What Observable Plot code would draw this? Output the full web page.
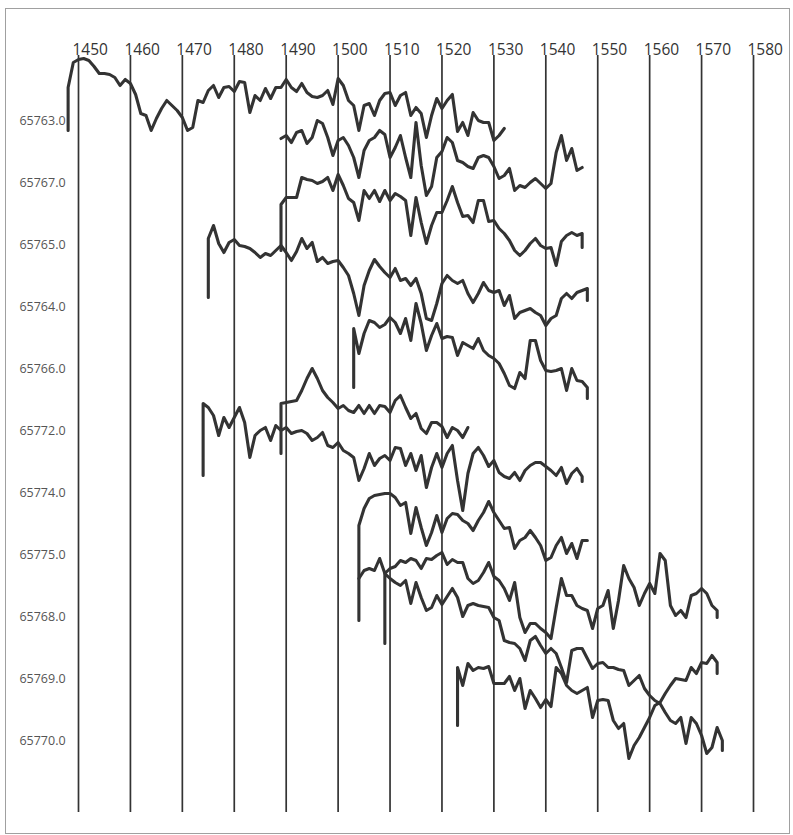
<!DOCTYPE html>
<html><head><meta charset="utf-8">
<script src="https://cdn.jsdelivr.net/npm/d3@7"></script>
<script src="https://cdn.jsdelivr.net/npm/@observablehq/plot@0.6"></script>
<style>
html,body{margin:0;padding:0;background:#fff;}
#frame{position:absolute;left:5px;top:8px;width:783px;height:824px;border:1px solid #a0a0a0;background:#fff;}
#frame svg{display:block;}
</style></head><body><div id="frame"></div>
<script>
// Sample labels (top to bottom)
const seriesLabels = ["65763.0","65767.0","65765.0","65764.0","65766.0","65772.0","65774.0","65775.0","65768.0","65769.0","65770.0"];
// First year of each series
const startYears = [1448,1489,1489,1475,1503,1489,1474,1504,1504,1509,1523];
// Yearly values: height above each series' baseline
const s0 = [33,58,61,62,60,54,47,47,46,43, 35,41,37,26,7,5,-10,2,12,20, 15,10,3,-10,-7,20,18,30,35,23, 33,34,29,39,38,8,25,20,32,22, 33,33,41,33,29,37,28,24,23,25, 30,16,42,35,20,15,-10,15,17,5, 20,27,28,15,25,28,5,13,7,-17, 5,22,12,20,26,-11,-2,-15,8,0, -2,-2,-20,-15,-8];
const s1 = [44,47,40,50,52,39,45,62,59,45, 27,42,45,37,25,5,32,42,45,52, 48,25,35,47,25,5,60,17,-13,-4, 25,31,45,40,22,20,16,14,25,27, 25,16,4,7,14,-8,-3,-5,0,4, -1,-6,-1,30,47,22,34,12,15];
const s2 = [40,47,47,47,67,65,64,61,63,67, 54,70,59,46,42,24,54,46,54,43, 54,44,51,48,44,9,47,22,1,19, 32,32,44,58,42,28,29,22,44,44, 23,24,16,11,4,-6,-11,-6,1,6, -1,-4,-3,-21,3,9,12,9,11];
const s3 = [68,81,63,54,64,67,61,60,58,54, 49,53,51,56,61,54,46,55,68,58, 64,45,49,43,45,46,39,31,13,-9, 21,36,47,40,34,29,38,26,28,21, 28,13,-12,-14,3,23,31,26,23,26, 13,4,13,24,16,14,16,1,11,-12, -6,-4,-2,-6,-9,-19,-12,-9,8,13, 8,14,16,18];
const s4 = [40,15,35,48,46,41,44,51,46,35, 50,28,65,45,18,33,45,30,32,31, 13,26,23,20,30,18,13,10,5,-5, -17,-20,-4,-10,28,28,8,-2,-3,-2, 0,-22,0,-12,-13,-19];
const s5 = [27,28,29,30,40,52,62,52,40,33, 28,22,25,20,18,25,17,25,17,25, 24,18,30,35,23,12,17,2,-3,8, 8,4,-7,3,0,-7,3];
const s6 = [89,85,77,57,75,65,75,85,70,35, 57,62,65,52,67,62,65,59,61,62, 59,52,55,60,47,45,50,42,39,35, 12,24,39,27,34,37,32,45,44,27, 39,22,37,5,25,39,25,39,47,12, -18,19,39,45,37,26,32,20,16,14, 20,12,22,27,30,30,26,22,17,25, 9,19,24,16];
const s7 = [29,46,56,59,60,61,61,57,49,52, 21,47,27,9,22,39,22,36,41,40, 34,31,24,34,42,53,42,34,26,27, 6,14,17,24,17,9,-6,-3,9,17, 1,11,-4,14,14];
const s8 = [38,46,48,46,58,43,48,50,56,54, 58,56,48,58,57,61,64,52,57,54, 54,38,33,36,44,54,40,36,28,16, 34,-1,-16,-7,-7,-12,-16,-22,9,38, 21,21,11,8,6,-12,8,11,26,-12, 16,51,38,29,11,23,33,23,63,56, 11,1,6,-1,21,23,28,23,11,6];
const s9 = [105,100,96,93,98,75,96,81,68,71, 83,74,82,90,81,62,73,75,73,72, 71,61,58,38,36,35,30,18,38,42, 33,25,30,25,11,-4,28,30,30,20, 10,15,16,11,11,9,8,-7,-2,3, -10,-17,-22,-25,-34,-42,-45,-39,-65,-39, -45,-57,-75,-69,-49,-62];
const s10 = [73,55,77,70,73,72,74,57,57,57, 64,50,62,32,50,42,33,41,34,73, 67,55,50,47,50,53,23,40,41,40, 20,12,17,-18,-5,3,13,23,35,38, 47,55,62,61,60,73,67,78,77,85,78];
const seriesValues = [s0,s1,s2,s3,s4,s5,s6,s7,s8,s9,s10];
// Short vertical tails at the first / last year (value the tail reaches)
const startTails = [-10,null,-6,9,-19,-23,17,-66,null,35,15];
const endTails = [null,null,-3,6,-30,null,11,null,-1,-72,67];
const tickYears = d3.range(1450, 1581, 10);
const spacing = 62;

const points = [];
seriesValues.forEach((vals, k) => {
  const name = seriesLabels[k];
  const y0 = startYears[k];
  const yEnd = y0 + vals.length - 1;
  if (startTails[k] != null) points.push({series: name, year: y0, y: startTails[k] - spacing * k});
  vals.forEach((v, i) => points.push({series: name, year: y0 + i, y: v - spacing * k}));
  if (endTails[k] != null) points.push({series: name, year: yEnd, y: endTails[k] - spacing * k});
});
const labelTicks = seriesLabels.map((d, k) => -spacing * k);
const labelByTick = new Map(labelTicks.map((t, k) => [t, seriesLabels[k]]));

const chart = Plot.plot({
  width: 783, height: 824,
  marginLeft: 20.08, marginRight: 10.04, marginTop: 46, marginBottom: 21,
  x: {domain: [1440, 1585]},
  y: {domain: [-692, 65]},
  style: {fontFamily: "'Open Sans', sans-serif", background: "transparent", color: "#333"},
  marks: [
    Plot.gridX(tickYears, {stroke: "#333", strokeOpacity: 1, strokeWidth: 1.7}),
    Plot.axisX(tickYears, {anchor: "top", tickSize: 0, tickPadding: 1, textAnchor: "start", dx: -6, fontSize: 15.5, fill: "#333", label: null, tickFormat: d => String(d)}),
    Plot.axisY(labelTicks, {anchor: "left", tickSize: 0, tickPadding: 0, dx: 39, fontSize: 12.5, fill: "#555", label: null, tickFormat: d => labelByTick.get(d)}),
    Plot.line(points, {x: "year", y: "y", z: "series", stroke: "#333", strokeWidth: 3.1, strokeLinejoin: "round"})
  ]
});
document.getElementById("frame").appendChild(chart);
</script>
</body></html>
